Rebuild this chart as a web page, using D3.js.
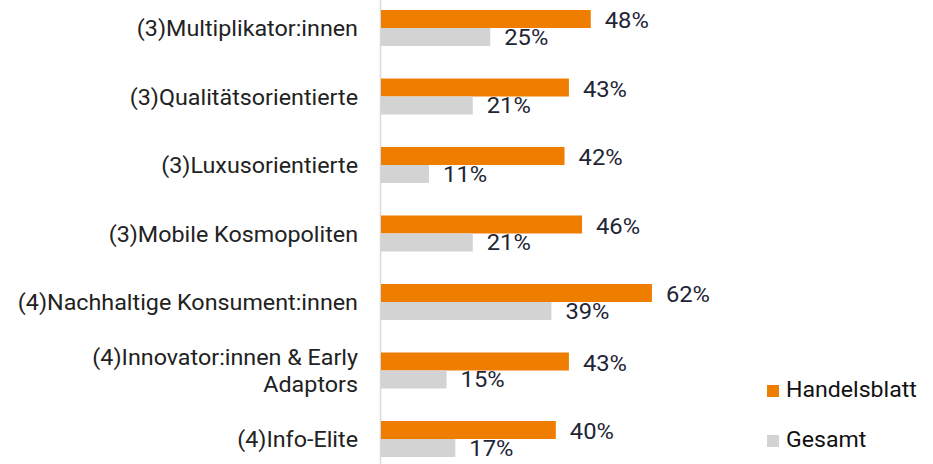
<!DOCTYPE html>
<html>
<head>
<meta charset="UTF-8">
<title>Handelsblatt vs Gesamt</title>
<script src="https://cdn.jsdelivr.net/npm/d3@7"></script>
<style>
  body { margin: 0; background: #fff; }
  text { font-family: Roboto, "Noto Sans", sans-serif; }
</style>
</head>
<body>
<div id="chart"></div>
<script>

// data
var categories = [
  "(3)Multiplikator:innen",
  "(3)Qualitätsorientierte",
  "(3)Luxusorientierte",
  "(3)Mobile Kosmopoliten",
  "(4)Nachhaltige Konsument:innen",
  "(4)Innovator:innen & Early|Adaptors",
  "(4)Info-Elite"
]
var handelsblatt = [48, 43, 42, 46, 62, 43, 40]
var gesamt       = [25, 21, 11, 21, 39, 15, 17]
var seriesNames  = ["Handelsblatt", "Gesamt"]
var seriesColors = ["#ef7d00", "#d3d3d3"]

// layout
var width = 933, height = 464
var axisX = 381
var barH = 18
var fs = 22   // text is a little wider than plain Roboto, hence the scaleX below

var svg = d3.select("#chart").append("svg")
  .attr("width", width)
  .attr("height", height)

var x = d3.scaleLinear().domain([0, 100]).range([axisX, axisX + 437])

var y = d3.scaleBand()
  .domain(categories)
  .range([-6.25, 473.25])
  .paddingInner(0)

// vertical axis line
svg.append("line")
  .attr("x1", axisX - 0.5).attr("x2", axisX - 0.5)
  .attr("y1", 0).attr("y2", height)
  .attr("stroke", "#d9d9d9")
  .attr("stroke-width", 1.5)

var groups = svg.selectAll(".grp")
  .data(categories).enter()
  .append("g")
  .attr("class", "grp")
  .attr("transform", function(d) {
    return "translate(0," + (y(d) + y.bandwidth() / 2) + ")"
  })

// bars
groups.append("rect")
  .attr("x", axisX)
  .attr("y", -barH)
  .attr("height", barH)
  .attr("width", function(d, i) { return x(handelsblatt[i]) - axisX })
  .attr("fill", seriesColors[0])

groups.append("rect")
  .attr("x", axisX)
  .attr("y", 0)
  .attr("height", barH)
  .attr("width", function(d, i) { return x(gesamt[i]) - axisX })
  .attr("fill", seriesColors[1])

// value labels
groups.append("text")
  .attr("transform", function(d, i) {
    return "translate(" + (x(handelsblatt[i]) + 14) + ",0) scale(1.08,1)"
  })
  .attr("font-size", fs + "px")
  .attr("fill", "#1e2535")
  .text(function(d, i) { return handelsblatt[i] + "%" })

groups.append("text")
  .attr("transform", function(d, i) {
    return "translate(" + (x(gesamt[i]) + 14) + ",16.5) scale(1.08,1)"
  })
  .attr("font-size", fs + "px")
  .attr("fill", "#1e2535")
  .text(function(d, i) { return gesamt[i] + "%" })

// category labels
groups.each(function(d) {
  var lines = d.split("|")
  var t = d3.select(this).append("text")
    .attr("transform", "translate(358,0) scale(1.06,1)")
    .attr("text-anchor", "end")
    .attr("font-size", fs + "px")
    .attr("fill", "#222")
  lines.forEach(function(l, k) {
    t.append("tspan")
      .attr("x", 0)
      .attr("y", 8 + (k - (lines.length - 1) / 2) * 27)
      .text(l)
  })
})

// legend
var legend = svg.selectAll(".leg")
  .data(seriesNames).enter()
  .append("g")
  .attr("class", "leg")
  .attr("transform", function(d, i) { return "translate(767," + (385 + i * 50) + ")" })

legend.append("rect")
  .attr("width", 12).attr("height", 12)
  .attr("fill", function(d, i) { return seriesColors[i] })

legend.append("text")
  .attr("transform", "translate(19,11.7) scale(1.05,1)")
  .attr("font-size", fs + "px")
  .attr("fill", "#111")
  .text(function(d) { return d })

</script>
</body>
</html>
